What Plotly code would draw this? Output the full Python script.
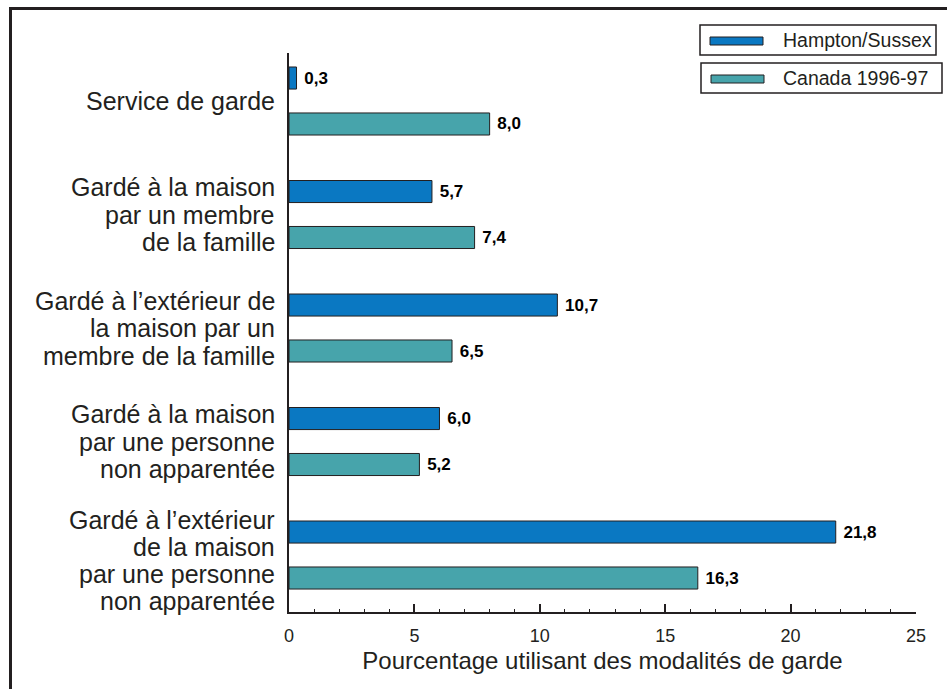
import plotly.graph_objects as go

# ---- data ----
categories = [
    ["Service de garde"],
    ["Gardé à la maison", "par un membre", "de la famille"],
    ["Gardé à l’extérieur de", "la maison par un", "membre de la famille"],
    ["Gardé à la maison", "par une personne", "non apparentée"],
    ["Gardé à l’extérieur", "de la maison", "par une personne", "non apparentée"],
]
hampton = [0.3, 5.7, 10.7, 6.0, 21.8]
canada = [8.0, 7.4, 6.5, 5.2, 16.3]
series_names = ["Hampton/Sussex", "Canada 1996-97"]
x_ticks = [0, 5, 10, 15, 20, 25]

BLUE = "#0a78c2"
TEAL = "#47a4ab"
INK = "#231f20"
FONT = "Liberation Sans, Arial, Helvetica, sans-serif"

W, H = 947, 689
L, R, T, B = 289, 31, 53, 77
PW, PH = W - L - R, H - T - B


def px(x):
    return (x - L) / PW


def py(y):
    return (H - B - y) / PH


ypos = list(range(len(categories)))

fig = go.Figure()
for name, vals, col in [(series_names[0], hampton, BLUE), (series_names[1], canada, TEAL)]:
    fig.add_trace(go.Bar(
        y=ypos, x=vals, orientation="h", name=name,
        marker=dict(color=col, line=dict(color=INK, width=1)),
        texttemplate="\u00a0%{x:.1f}", textposition="outside",
        textfont=dict(family=FONT, size=17, color="#000000", weight="bold"),
        cliponaxis=False, showlegend=False,
    ))

# category labels (one annotation per line, tight leading like the original)
annotations = []
for i, lines in enumerate(categories):
    n = len(lines)
    spacing = 27 if n >= 4 else 27.5
    shift_c = 5 if n >= 4 else 0
    for k, line in enumerate(lines):
        off = shift_c + (k - (n - 1) / 2) * spacing
        annotations.append(dict(
            xref="paper", yref="y", x=0, y=i, xanchor="right", yanchor="middle",
            xshift=-12, yshift=-off, text=line, showarrow=False,
            font=dict(family=FONT, size=25, color=INK),
        ))

# legend drawn as boxes
shapes = []
leg = [
    (series_names[0], BLUE, (700, 25, 936, 55), (710, 37, 763, 45), 40),
    (series_names[1], TEAL, (701, 63, 942, 93), (711, 75, 764, 83), 78),
]
for name, col, box, sw, ty in leg:
    shapes.append(dict(type="rect", xref="paper", yref="paper",
                       x0=px(box[0]), x1=px(box[2]), y0=py(box[3]), y1=py(box[1]),
                       line=dict(color=INK, width=1.5), fillcolor="white", layer="above"))
    shapes.append(dict(type="rect", xref="paper", yref="paper",
                       x0=px(sw[0]), x1=px(sw[2]), y0=py(sw[3]), y1=py(sw[1]),
                       line=dict(color=INK, width=1), fillcolor=col, layer="above"))
    annotations.append(dict(xref="paper", yref="paper", x=px(781), y=py(ty),
                            xanchor="left", yanchor="middle", text=name, showarrow=False,
                            font=dict(family=FONT, size=19.5, color=INK)))

# outer frame (left and top edges)
shapes.append(dict(type="line", xref="paper", yref="paper", x0=px(10.5), x1=px(10.5),
                   y0=py(8.5), y1=py(H + 5), line=dict(color=INK, width=3)))
shapes.append(dict(type="line", xref="paper", yref="paper", x0=px(9), x1=px(W + 5),
                   y0=py(8.5), y1=py(8.5), line=dict(color=INK, width=3)))

fig.update_layout(
    width=W, height=H,
    margin=dict(l=L, r=R, t=T, b=B, pad=0),
    paper_bgcolor="white", plot_bgcolor="white",
    barmode="group", bargap=0.19, bargroupgap=0.52,
    separators=", ",
    font=dict(family=FONT, color=INK),
    shapes=shapes, annotations=annotations,
    showlegend=False,
)
fig.update_xaxes(
    range=[0, 25], tickvals=x_ticks, ticks="inside", ticklen=8, tickwidth=1.5,
    tickcolor=INK, showline=True, linecolor=INK, linewidth=2, showgrid=False,
    zeroline=False, tickfont=dict(size=18, color=INK), ticklabelstandoff=6,
    minor=dict(dtick=1, ticks="inside", ticklen=3, tickwidth=1, tickcolor=INK, showgrid=False),
    title=dict(text="Pourcentage utilisant des modalités de garde",
               font=dict(size=24, color=INK), standoff=8),
)
fig.update_yaxes(
    range=[4.502, -0.423], showticklabels=False, ticks="", showgrid=False,
    zeroline=False, showline=True, linecolor=INK, linewidth=2,
)

fig.write_html(
    "out.html",
    config={"displayModeBar": False},
    post_script="document.body.style.margin='0';document.body.style.overflow='hidden';",
)
